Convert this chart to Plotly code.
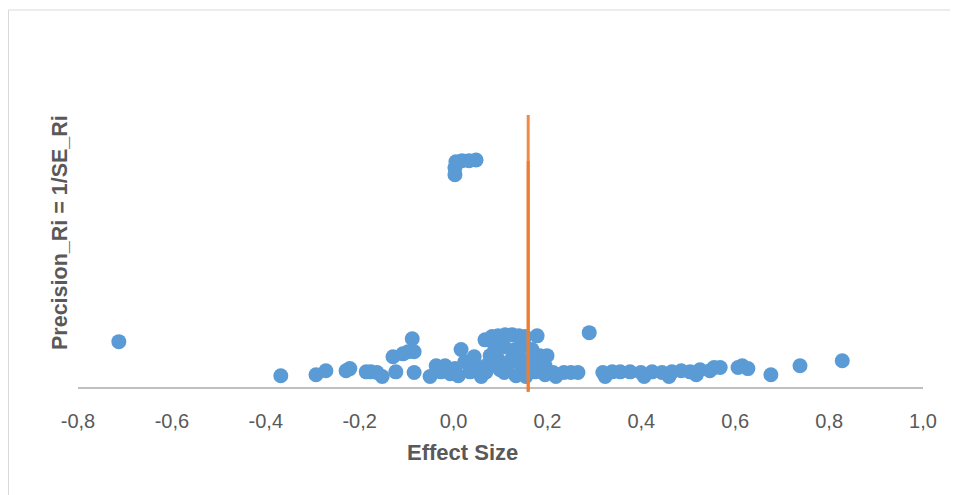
import plotly.graph_objects as go

effect_size = [
    -0.713, -0.368, -0.293, -0.272, -0.229, -0.221, -0.186, -0.176, -0.163, -0.152,
    -0.123, -0.129, -0.108, -0.097, -0.084, -0.088, -0.084, -0.050, -0.037, -0.027,
    -0.007, 0.003, 0.016, 0.024, 0.035, 0.044, 0.052, 0.059, 0.069, 0.067,
    0.082, 0.095, 0.110, 0.125, 0.139, 0.152, 0.178, 0.088, 0.108, 0.131,
    0.150, 0.095, 0.118, 0.142, 0.165, 0.184, 0.199, 0.195, 0.108, 0.133,
    0.154, 0.174, 0.195, 0.212, 0.218, 0.235, 0.250, 0.265, 0.289, 0.318,
    0.323, 0.338, 0.355, 0.376, 0.399, 0.406, 0.423, 0.444, 0.459, 0.465,
    0.485, 0.504, 0.517, 0.525, 0.546, 0.555, 0.568, 0.606, 0.615, 0.627,
    0.676, 0.738, 0.828,
    0.078, 0.125, 0.146, 0.167, 0.180, 0.099, 0.073, 0.010, -0.018,
    0.003, 0.003, 0.005, 0.018, 0.033, 0.048,
]
precision = [
    12.8, 3.3, 3.6, 4.7, 4.7, 5.3, 4.4, 4.4, 4.2, 3.1,
    4.4, 8.6, 9.4, 10.0, 10.0, 13.6, 4.2, 3.1, 6.1, 4.4,
    3.9, 5.3, 10.6, 7.2, 4.4, 8.6, 5.8, 3.1, 4.4, 13.3,
    14.2, 14.4, 14.7, 14.7, 14.4, 14.2, 14.4, 10.8, 11.4, 10.6,
    11.9, 7.8, 6.7, 8.3, 7.2, 8.9, 8.9, 6.1, 4.2, 3.3,
    3.1, 4.4, 3.6, 4.2, 3.1, 4.2, 4.2, 4.2, 15.3, 4.2,
    3.1, 4.4, 4.4, 4.4, 4.2, 3.1, 4.4, 4.2, 3.1, 4.4,
    4.7, 4.4, 3.6, 5.0, 4.7, 5.6, 5.6, 5.6, 6.1, 5.3,
    3.6, 6.1, 7.5,
    8.9, 8.3, 5.6, 10.6, 5.6, 5.0, 6.4, 3.3, 6.1,
    59.2, 61.1, 62.8, 63.1, 63.1, 63.3,
]

mean_effect_x = [0.159, 0.159]
mean_line_long_y = [-1.1, 75.8]
mean_line_short_y = [-1.1, 63.0]

x_ticks = [-0.8, -0.6, -0.4, -0.2, 0.0, 0.2, 0.4, 0.6, 0.8, 1.0]
x_tick_labels = ["-0,8", "-0,6", "-0,4", "-0,2", "0,0", "0,2", "0,4", "0,6", "0,8", "1,0"]

FONT = "Liberation Sans, Arial, sans-serif"

fig = go.Figure()
fig.add_trace(go.Scatter(
    x=effect_size, y=precision, mode="markers",
    marker=dict(size=15, color="#5B9BD5", line=dict(width=0)),
    showlegend=False, hoverinfo="x+y",
))
fig.add_trace(go.Scatter(
    x=mean_effect_x, y=mean_line_long_y, mode="lines",
    line=dict(color="#F08A46", width=3), showlegend=False,
))
fig.add_trace(go.Scatter(
    x=mean_effect_x, y=mean_line_short_y, mode="lines",
    line=dict(color="#ED7D31", width=3), showlegend=False,
))

# page body has an 8px margin; the figure is laid out in page px minus 8
OFF = 8
FW, FH = 958 - OFF, 495 - OFF
L, R, T, B = 78 - OFF, 923 - OFF, 25 - OFF, 392 - OFF
W, H = R - L, B - T

def px_x(p):
    return (p - OFF - L) / W

def px_y(p):
    return (B - (p - OFF)) / H

fig.update_layout(
    width=FW, height=FH,
    margin=dict(l=L, r=FW - R, t=T, b=FH - B),
    paper_bgcolor="white", plot_bgcolor="white",
    xaxis=dict(
        range=[-0.8, 1.0], tickvals=x_ticks, ticktext=x_tick_labels,
        showgrid=False, zeroline=False, showline=False, ticks="",
        tickfont=dict(family=FONT, size=20, color="#595959"),
        ticklabelstandoff=15,
    ),
    yaxis=dict(
        range=[-1.2, 100.8], showgrid=False, showticklabels=False, ticks="",
        zeroline=True, zerolinecolor="#BFBFBF", zerolinewidth=2, showline=False,
    ),
    shapes=[dict(
        type="rect", xref="paper", yref="paper",
        x0=px_x(8.5), x1=px_x(970), y0=px_y(510), y1=px_y(10),
        line=dict(color="#D9D9D9", width=1), fillcolor="rgba(0,0,0,0)", layer="below",
    )],
    annotations=[
        dict(text="<b>Effect Size</b>", xref="paper", yref="paper",
             x=px_x(462), y=px_y(452), xanchor="center", yanchor="middle",
             showarrow=False,
             font=dict(family=FONT, size=22, color="#595959")),
        dict(text="<b>Precision_Ri = 1/SE_Ri</b>", xref="paper", yref="paper",
             x=px_x(60), y=px_y(233), xanchor="center", yanchor="middle",
             showarrow=False, textangle=-90,
             font=dict(family=FONT, size=21.5, color="#595959")),
    ],
)

fig.write_html("out.html")
